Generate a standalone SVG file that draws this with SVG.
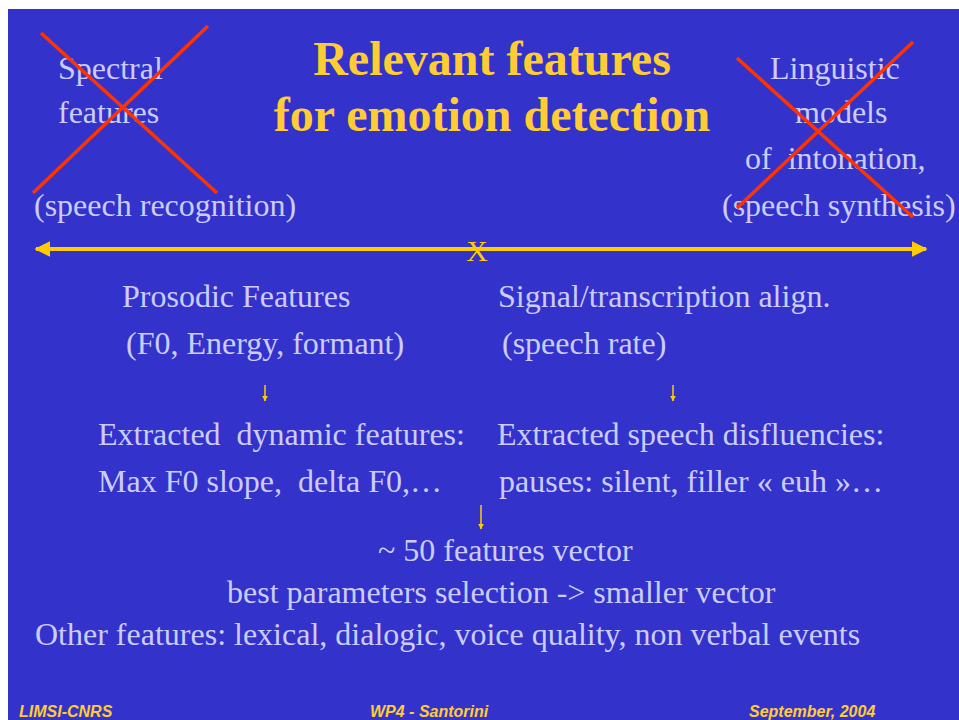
<svg xmlns="http://www.w3.org/2000/svg" width="959" height="720" viewBox="0 0 959 720">
<style>
.t{font-family:"Liberation Serif","Times New Roman",serif;font-size:32px;fill:#CCCCFF}
.ttl{font-family:"Liberation Serif","Times New Roman",serif;font-size:48px;font-weight:bold;fill:#FFCC33}
.ft{font-family:"Liberation Sans",Arial,sans-serif;font-size:16px;font-weight:bold;font-style:italic;fill:#FFCC33}
.cross{stroke:#FF3300;stroke-width:3.5;fill:none}
.conn{stroke:#FFCC00;fill:none}
</style>
<defs>
<marker id="ah" viewBox="0 0 10 10" refX="9" refY="5" markerWidth="4" markerHeight="4" orient="auto-start-reverse" markerUnits="strokeWidth">
<path d="M0,0 L10,5 L0,10 Z" fill="#FFCC00"/>
</marker>
<marker id="sa" viewBox="0 0 10 10" refX="9" refY="5" markerWidth="6" markerHeight="6" orient="auto" markerUnits="userSpaceOnUse">
<path d="M0,0 L10,5 L0,10 Z" fill="#FFCC00"/>
</marker>
</defs>
<rect x="0" y="0" width="959" height="720" fill="#FFFFFF"/>
<rect x="8" y="9" width="951" height="711" fill="#3333CC"/>

<g id="title">
<text class="ttl" x="492" y="75" text-anchor="middle">Relevant features</text>
<text class="ttl" x="492" y="131" text-anchor="middle">for emotion detection</text>
</g>

<g id="spectral">
<text class="t" x="58" y="79">Spectral</text>
<text class="t" x="58" y="123">features</text>
<text class="t" x="34" y="216">(speech recognition)</text>
<line class="cross" x1="41" y1="33" x2="217" y2="193"/>
<line class="cross" x1="33" y1="193" x2="208" y2="26"/>
</g>

<g id="linguistic">
<text class="t" x="770" y="79">Linguistic</text>
<text class="t" x="795" y="123">models</text>
<text class="t" x="745" y="169" xml:space="preserve">of  intonation,</text>
<text class="t" x="722" y="216">(speech synthesis)</text>
<line class="cross" x1="737" y1="58" x2="913" y2="217"/>
<line class="cross" x1="737" y1="208" x2="913" y2="42"/>
</g>

<g id="connectors">
<line class="conn" x1="36" y1="249" x2="926" y2="249" stroke-width="4" marker-start="url(#ah)" marker-end="url(#ah)"/>
<line class="conn" x1="265" y1="385" x2="265" y2="401" stroke-width="1.5" marker-end="url(#sa)"/>
<line class="conn" x1="673" y1="385" x2="673" y2="401" stroke-width="1.5" marker-end="url(#sa)"/>
<line class="conn" x1="481" y1="505" x2="481" y2="529" stroke-width="1.5" marker-end="url(#sa)"/>
</g>

<g id="axis-mark">
<text x="477" y="261" text-anchor="middle" style="font-family:'Liberation Serif','Times New Roman',serif;font-size:30px;fill:#FFCC00">X</text>
</g>

<g id="prosodic">
<text class="t" x="122" y="307">Prosodic Features</text>
<text class="t" x="126" y="354">(F0, Energy, formant)</text>
</g>

<g id="signal">
<text class="t" x="498" y="307">Signal/transcription align.</text>
<text class="t" x="502" y="354">(speech rate)</text>
</g>

<g id="dynamic">
<text class="t" x="98" y="445" xml:space="preserve">Extracted  dynamic features:</text>
<text class="t" x="98" y="492" xml:space="preserve">Max F0 slope,  delta F0,…</text>
</g>

<g id="disfluencies">
<text class="t" x="497" y="445">Extracted speech disfluencies:</text>
<text class="t" x="499" y="492">pauses: silent, filler « euh »…</text>
</g>

<g id="vector">
<text class="t" x="378" y="561">~ 50 features vector</text>
<text class="t" x="227" y="603">best parameters selection -&gt; smaller vector</text>
<text class="t" x="35" y="645">Other features: lexical, dialogic, voice quality, non verbal events</text>
</g>

<g id="footer">
<text class="ft" x="19" y="717">LIMSI-CNRS</text>
<text class="ft" x="370" y="717">WP4 - Santorini</text>
<text class="ft" x="749" y="717">September, 2004</text>
</g>
</svg>
